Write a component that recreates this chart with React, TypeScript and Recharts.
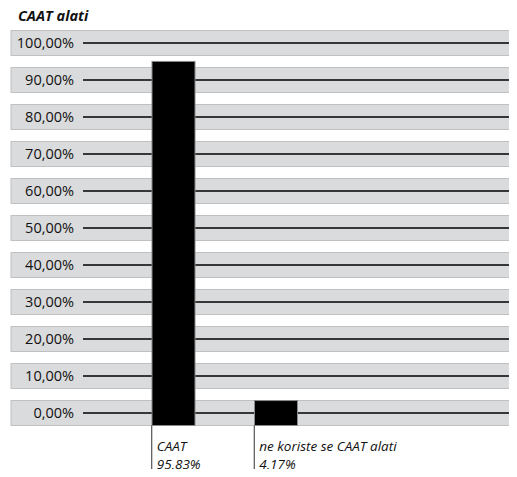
import React from "react";
import { BarChart, Bar, XAxis, YAxis, CartesianGrid } from "recharts";

const categories = ["CAAT", "ne koriste se CAAT alati"];
const values = [95.83, 4.17];
const valueLabels = ["95,83%", "4,17%"];
const yTicks = [0, 10, 20, 30, 40, 50, 60, 70, 80, 90, 100];
const yTickLabels = ["0,00%", "10,00%", "20,00%", "30,00%", "40,00%", "50,00%", "60,00%", "70,00%", "80,00%", "90,00%", "100,00%"];
const title = "CAAT alati";

const data = categories.map((name, i) => ({ name, value: values[i], label: valueLabels[i] }));

const FONT = "'Open Sans', 'DejaVu Sans', sans-serif";
const BAR_SIZE = 43;
const BAND_HALF = 12.5;

const GridRow = (props: any) => {
  const { x1, x2, y1 } = props;
  return (
    <g>
      <rect x={x1 - 72} y={y1 - BAND_HALF} width={x2 - x1 + 72} height={BAND_HALF * 2} fill="#dadbdc" stroke="#bfc0c1" strokeWidth={1} />
      <line x1={x1} x2={x2} y1={y1} y2={y1} stroke="#000" strokeWidth={1.4} />
    </g>
  );
};

const BarShape = (props: any) => {
  const { x, y, width, height } = props;
  const top = y + 3;
  const bottom = y + height + BAND_HALF;
  return <rect x={x} y={top} width={width} height={bottom - top} fill="#000" stroke="#8a8a8a" strokeWidth={1} />;
};

const XTick = (props: any) => {
  const { x, y, payload, index } = props;
  const left = x - BAR_SIZE / 2;
  return (
    <g>
      <line x1={left} x2={left} y1={y + BAND_HALF} y2={y + 80} stroke="#333" strokeWidth={1} />
      <text x={left + 5} y={y + 38} fontFamily={FONT} fontStyle="italic" fontSize={13.5} fill="#111">
        {payload.value}
      </text>
      <text x={left + 5} y={y + 56} fontFamily={FONT} fontStyle="italic" fontSize={13.5} fill="#111">
        {data[index]?.label}
      </text>
    </g>
  );
};

export default function App() {
  return (
    <div style={{ position: "relative", width: 517, height: 477, margin: -8, background: "#fff", overflow: "hidden" }}>
      <div
        style={{
          position: "absolute",
          left: 18,
          top: 7,
          fontFamily: FONT,
          fontWeight: 700,
          fontStyle: "italic",
          fontSize: 14.5,
          color: "#111",
          lineHeight: "18px",
        }}
      >
        {title}
      </div>
      <BarChart width={517} height={477} data={data} margin={{ top: 43, right: 0, bottom: 0, left: 0 }} barSize={BAR_SIZE}>
        <CartesianGrid vertical={false} horizontal={(p: any) => <GridRow key={p.key} {...p} />} />
        <YAxis
          type="number"
          domain={[0, 100]}
          ticks={yTicks}
          width={83}
          axisLine={false}
          tickLine={false}
          tickSize={0}
          tickMargin={9}
          interval={0}
          tickFormatter={(v: number) => yTickLabels[yTicks.indexOf(v)]}
          tick={{ fontFamily: FONT, fontSize: 14.5, fill: "#111" }}
        />
        <XAxis
          dataKey="name"
          height={64}
          axisLine={false}
          tickLine={false}
          tickSize={0}
          tickMargin={0}
          padding={{ left: 39, right: 190 }}
          interval={0}
          tick={<XTick />}
        />
        <Bar dataKey="value" shape={<BarShape />} isAnimationActive={false} />
      </BarChart>
    </div>
  );
}
